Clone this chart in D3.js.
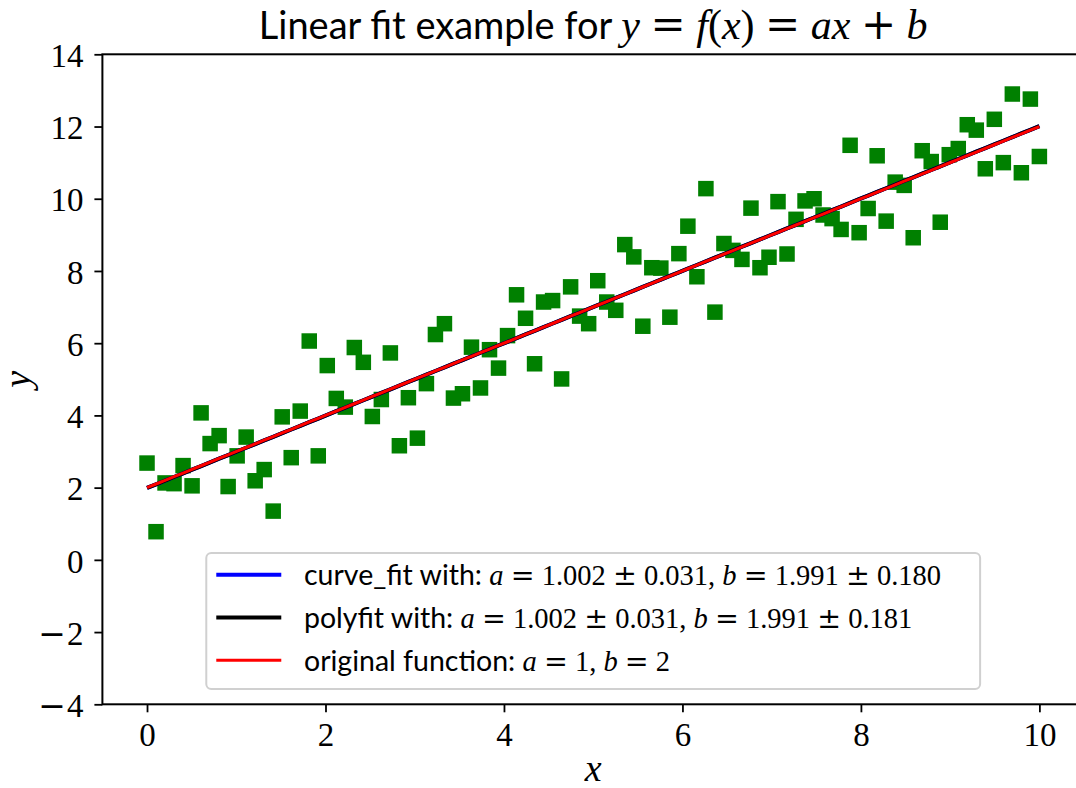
<!DOCTYPE html>
<html>
<head>
<meta charset="utf-8">
<script src="https://cdn.jsdelivr.net/npm/d3@7"></script>
<style>
  body { margin: 0; background: #fff; }
  text { white-space: pre; }
</style>
</head>
<body>
<svg class="chart"></svg>
<script>
// sample points (x = linspace(0, 10, 100))
var xValues = [0, 0.101, 0.202, 0.303, 0.404, 0.505, 0.606, 0.707, 0.808, 0.909,
  1.010, 1.111, 1.212, 1.313, 1.414, 1.515, 1.616, 1.717, 1.818, 1.919,
  2.020, 2.121, 2.222, 2.323, 2.424, 2.525, 2.626, 2.727, 2.828, 2.929,
  3.030, 3.131, 3.232, 3.333, 3.434, 3.535, 3.636, 3.737, 3.838, 3.939,
  4.040, 4.141, 4.242, 4.343, 4.444, 4.545, 4.646, 4.747, 4.848, 4.949,
  5.051, 5.152, 5.253, 5.354, 5.455, 5.556, 5.657, 5.758, 5.859, 5.960,
  6.061, 6.162, 6.263, 6.364, 6.465, 6.566, 6.667, 6.768, 6.869, 6.970,
  7.071, 7.172, 7.273, 7.374, 7.475, 7.576, 7.677, 7.778, 7.879, 7.980,
  8.081, 8.182, 8.283, 8.384, 8.485, 8.586, 8.687, 8.788, 8.889, 8.990,
  9.091, 9.192, 9.293, 9.394, 9.495, 9.596, 9.697, 9.798, 9.899, 10.0];

var yValues = [2.68, 0.78, 2.13, 2.11, 2.61, 2.05, 4.07, 3.22, 3.44, 2.03,
  2.88, 3.40, 2.19, 2.50, 1.35, 3.96, 2.83, 4.12, 6.06, 2.88,
  5.38, 4.47, 4.23, 5.88, 5.47, 3.97, 4.44, 5.73, 3.16, 4.49,
  3.37, 4.88, 6.24, 6.54, 4.48, 4.60, 5.89, 4.76, 5.82, 5.31,
  6.21, 7.34, 6.69, 5.43, 7.14, 7.18, 5.01, 7.56, 6.75, 6.54,
  7.73, 7.14, 6.91, 8.73, 8.39, 6.47, 8.09, 8.08, 6.72, 8.48,
  9.24, 7.84, 10.28, 6.86, 8.76, 8.57, 8.32, 9.74, 8.09, 8.38,
  9.92, 8.47, 9.43, 9.94, 10.00, 9.55, 9.45, 9.15, 11.48, 9.06,
  9.73, 11.19, 9.38, 10.46, 10.37, 8.92, 11.33, 11.03, 9.35, 11.22,
  11.39, 12.05, 11.90, 10.83, 12.20, 11.00, 12.90, 10.72, 12.76, 11.17];

// fitted / true parameters, as printed in the legend
var fitNames = ["curve_fit", "polyfit", "original"];
var fitA = [1.002, 1.002, 1];
var fitB = [1.991, 1.991, 2];
var fitColors = ["blue", "black", "red"];
var fitWidths = [4, 4, 3];

var xTicks = [0, 2, 4, 6, 8, 10],
    yTicks = [-4, -2, 0, 2, 4, 6, 8, 10, 12, 14];

// pieces of text: [text, kind], kind = sans / rm / it / op
var sp = "\u2005";
var titleParts = [["Linear fit example for ", "sans"], ["y", "it"], [sp + "=" + sp, "op"], ["f", "it"], ["(", "rm"],
  ["x", "it"], [")", "rm"], [sp + "=" + sp, "op"], ["ax", "it"], [sp + "+" + sp, "op"], ["b", "it"]];

var legendLabels = [
  [["curve_fit with: ", "sans"], ["a", "it"], [sp + "=" + sp, "op"], ["1.002", "rm"], [sp + "±" + sp, "op"], ["0.031, ", "rm"],
   ["b", "it"], [sp + "=" + sp, "op"], ["1.991", "rm"], [sp + "±" + sp, "op"], ["0.180", "rm"]],
  [["polyfit with: ", "sans"], ["a", "it"], [sp + "=" + sp, "op"], ["1.002", "rm"], [sp + "±" + sp, "op"], ["0.031, ", "rm"],
   ["b", "it"], [sp + "=" + sp, "op"], ["1.991", "rm"], [sp + "±" + sp, "op"], ["0.181", "rm"]],
  [["original function: ", "sans"], ["a", "it"], [sp + "=" + sp, "op"], ["1, ", "rm"], ["b", "it"], [sp + "=" + sp, "op"], ["2", "rm"]]
];

var serif = "'Liberation Serif', 'DejaVu Serif', serif",
    opFont = "'DejaVu Serif', serif",
    sans = "Lato, 'DejaVu Sans', sans-serif";

var Width = 1076, Height = 788;
var margin = {top: 54.3, right: -8, bottom: 83.7, left: 102.4},
    width = Width - margin.left - margin.right,
    height = Height - margin.top - margin.bottom;

var x = d3.scaleLinear().domain([-0.5, 10.5]).range([0, width]);
var y = d3.scaleLinear().domain([-4, 14]).range([height, 0]);
var midX = (x(-0.5) + x(10.5)) / 2;

var svg = d3.select(".chart")
    .attr("width", Width)
    .attr("height", Height);

var chart = svg.append("g")
    .attr("transform", "translate(" + margin.left + "," + margin.top + ")");

// writes a mix of sans text and math into a text element
function mathText(sel, parts, sansSize, mathSize) {
  parts.forEach(function(p) {
    sel.append("tspan")
      .attr("font-family", p[1] == "sans" ? sans : p[1] == "op" ? opFont : serif)
      .attr("font-style", p[1] == "it" ? "italic" : "normal")
      .attr("font-size", p[1] == "sans" ? sansSize : mathSize)
      .text(p[0]);
  });
  return sel;
}

// scatter
chart.append("g").selectAll("rect")
    .data(xValues)
    .enter().append("rect")
    .attr("x", function(d) { return x(d) - 7.75; })
    .attr("y", function(d, i) { return y(yValues[i]) - 7.75; })
    .attr("width", 15.5)
    .attr("height", 15.5)
    .attr("fill", "green");

// fit lines
var line = d3.line()
    .x(function(d) { return x(d[0]); })
    .y(function(d) { return y(d[1]); });

fitNames.forEach(function(name, k) {
  chart.append("path")
      .attr("d", line(xValues.map(function(v) { return [v, fitA[k] * v + fitB[k]]; })))
      .attr("fill", "none")
      .attr("stroke", fitColors[k])
      .attr("stroke-width", fitWidths[k]);
});

// axes
var xAxis = chart.append("g")
    .attr("transform", "translate(0," + height + ")")
    .call(d3.axisBottom(x).tickValues(xTicks).tickSize(8).tickPadding(10));
var yAxis = chart.append("g")
    .call(d3.axisLeft(y).tickValues(yTicks).tickSize(8).tickPadding(11));

[xAxis, yAxis].forEach(function(a) {
  a.select(".domain").remove();
  a.selectAll("line").attr("stroke", "#000").attr("stroke-width", 1.8);
  a.selectAll("text").attr("font-family", serif).attr("font-size", 33).attr("fill", "#000");
});
yAxis.selectAll("text").attr("dy", "0.37em");

// wide tex-like minus sign on negative ticks
yAxis.selectAll("text").each(function(d) {
  if (d >= 0) return;
  var t = d3.select(this).text("");
  t.append("tspan").attr("font-family", opFont).text("\u2212");
  t.append("tspan").attr("dx", 1).text(Math.abs(d));
});

chart.append("rect")
    .attr("width", width)
    .attr("height", height)
    .attr("fill", "none")
    .attr("stroke", "#000")
    .attr("stroke-width", 2);

// title and axis labels
mathText(chart.append("text")
    .attr("x", midX)
    .attr("y", -15)
    .attr("text-anchor", "middle"),
  titleParts, 38, 42);

chart.append("text")
    .attr("x", midX)
    .attr("y", height + 77)
    .attr("text-anchor", "middle")
    .attr("font-family", serif)
    .attr("font-style", "italic")
    .attr("font-size", 38)
    .text("x");

chart.append("text")
    .attr("transform", "translate(-72," + height / 2 + ") rotate(-90)")
    .attr("text-anchor", "middle")
    .attr("font-family", serif)
    .attr("font-style", "italic")
    .attr("font-size", 38)
    .text("y");

// legend, lower center
var legend = chart.append("g");
var legendBox = legend.append("rect")
    .attr("fill", "#fff")
    .attr("fill-opacity", 0.8)
    .attr("stroke", "#d0d0d0")
    .attr("stroke-width", 2)
    .attr("rx", 5);

var rowH = 42.8, boxH = 136;
var items = legend.selectAll("g.item")
    .data(legendLabels)
    .enter().append("g")
    .attr("class", "item")
    .attr("transform", function(d, i) { return "translate(0," + (21.7 + i * rowH) + ")"; });

items.append("line")
    .attr("x1", 10).attr("x2", 75)
    .attr("stroke", function(d, i) { return fitColors[i]; })
    .attr("stroke-width", function(d, i) { return fitWidths[i]; });

var maxLen = 0;
items.append("text")
    .attr("x", 97.7)
    .attr("y", 10.6)
    .each(function(d) {
      mathText(d3.select(this), d, 28.5, 28.5);
      maxLen = Math.max(maxLen, this.getComputedTextLength());
    });

var boxW = 97.7 + maxLen + 39;
legendBox.attr("width", boxW).attr("height", boxH);
legend.attr("transform", "translate(" + (midX - boxW / 2) + "," + (height - 15.3 - boxH) + ")");
</script>
</body>
</html>
